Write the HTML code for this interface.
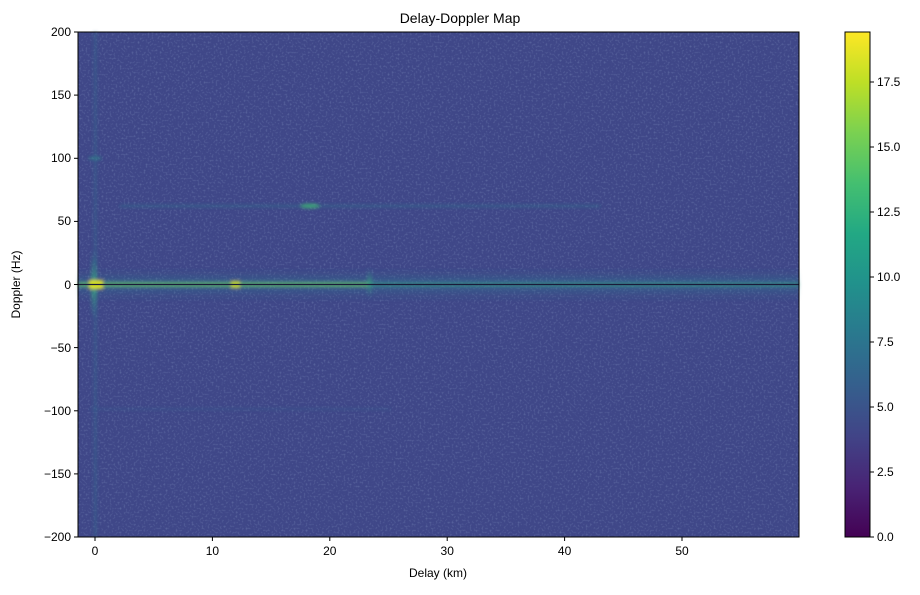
<!DOCTYPE html>
<html><head><meta charset="utf-8"><style>
body{margin:0;background:#fff;}
svg text{font-family:"Liberation Sans","DejaVu Sans",sans-serif;fill:#000;}
</style></head><body>
<svg width="920" height="590" viewBox="0 0 920 590" xmlns="http://www.w3.org/2000/svg">
<defs>
<linearGradient id="cb" x1="0" y1="1" x2="0" y2="0">
<stop offset="0" stop-color="#440154"/><stop offset="0.1" stop-color="#482475"/>
<stop offset="0.2" stop-color="#414487"/><stop offset="0.3" stop-color="#355f8d"/>
<stop offset="0.4" stop-color="#2a788e"/><stop offset="0.5" stop-color="#21918c"/>
<stop offset="0.6" stop-color="#22a884"/><stop offset="0.7" stop-color="#44bf70"/>
<stop offset="0.8" stop-color="#7ad151"/><stop offset="0.9" stop-color="#bddf26"/>
<stop offset="1" stop-color="#fde725"/></linearGradient>
<linearGradient id="band" x1="0" y1="0" x2="0" y2="1">
<stop offset="0" stop-color="#2f6a8e" stop-opacity="0"/>
<stop offset="0.4" stop-color="#2a808e" stop-opacity="0.6"/>
<stop offset="0.5" stop-color="#3fb87a" stop-opacity="0.9"/>
<stop offset="0.6" stop-color="#2a808e" stop-opacity="0.6"/>
<stop offset="1" stop-color="#2f6a8e" stop-opacity="0"/></linearGradient>
<linearGradient id="vl" x1="0" y1="0" x2="0" y2="1">
<stop offset="0" stop-color="#2a808e" stop-opacity="0"/>
<stop offset="0.5" stop-color="#3fb87a" stop-opacity="0.9"/>
<stop offset="1" stop-color="#2a808e" stop-opacity="0"/></linearGradient>
<filter id="noise" x="0" y="0" width="100%" height="100%">
<feTurbulence type="fractalNoise" baseFrequency="0.5" numOctaves="1" seed="3"/>
<feColorMatrix type="matrix" values="0 0 0 0 0.25  0 0 0 0 0.33  0 0 0 0 0.56  0 0 0 -1.6 0.8"/>
</filter>
<filter id="blur"><feGaussianBlur stdDeviation="1.5"/></filter>
</defs>
<text x="460" y="23" font-size="14" text-anchor="middle">Delay-Doppler Map</text>
<rect x="78" y="32" width="721" height="505" fill="#3f4788"/>
<rect x="78" y="32" width="721" height="505" filter="url(#noise)" opacity="0.6"/>
<g filter="url(#blur)">
<rect x="94" y="32" width="2.5" height="505" fill="#31688e" opacity="0.6"/>
<rect x="120" y="205" width="480" height="2" fill="#2a808e" opacity="0.45"/>
<ellipse cx="310" cy="206" rx="10" ry="2.5" fill="#3fbc73" opacity="0.7"/>
<rect x="90" y="408" width="300" height="2" fill="#31688e" opacity="0.35"/>
<rect x="89" y="157" width="12" height="2.5" fill="#2a9a8a" opacity="0.6"/>
<rect x="78" y="268" width="721" height="33" fill="url(#band)" opacity="0.5"/>
<rect x="78" y="280" width="721" height="9" fill="url(#band)" opacity="0.8"/>
<rect x="78" y="282" width="290" height="5" fill="#7ad151" opacity="0.45"/>
<rect x="91" y="250" width="6" height="70" fill="url(#vl)" opacity="0.8"/>
<rect x="367" y="268" width="5" height="30" fill="url(#vl)" opacity="0.6"/>
<rect x="89" y="280" width="14" height="9" fill="#e3e41c" opacity="0.9"/>
<rect x="231" y="281" width="9" height="7" fill="#d8e21d" opacity="0.8"/>
</g>
<line x1="78" y1="284.5" x2="799" y2="284.5" stroke="#1a1a3a" stroke-width="1.2"/>
<rect x="78" y="32" width="721" height="505" fill="none" stroke="#000" stroke-width="1"/>
<g stroke="#000">
<line x1="95" y1="537" x2="95" y2="541"/><line x1="212.4" y1="537" x2="212.4" y2="541"/>
<line x1="329.8" y1="537" x2="329.8" y2="541"/><line x1="447.2" y1="537" x2="447.2" y2="541"/>
<line x1="564.6" y1="537" x2="564.6" y2="541"/><line x1="682" y1="537" x2="682" y2="541"/>
</g>
<g font-size="12" text-anchor="middle">
<text x="95" y="555">0</text><text x="212.4" y="555">10</text><text x="329.8" y="555">20</text>
<text x="447.2" y="555">30</text><text x="564.6" y="555">40</text><text x="682" y="555">50</text>
<text x="438" y="577">Delay (km)</text>
</g>
<g stroke="#000">
<line x1="74" y1="32" x2="78" y2="32"/><line x1="74" y1="95.1" x2="78" y2="95.1"/>
<line x1="74" y1="158.3" x2="78" y2="158.3"/><line x1="74" y1="221.4" x2="78" y2="221.4"/>
<line x1="74" y1="284.5" x2="78" y2="284.5"/><line x1="74" y1="347.6" x2="78" y2="347.6"/>
<line x1="74" y1="410.8" x2="78" y2="410.8"/><line x1="74" y1="473.9" x2="78" y2="473.9"/>
<line x1="74" y1="537" x2="78" y2="537"/>
</g>
<g font-size="12" text-anchor="end">
<text x="71" y="36">200</text><text x="71" y="99">150</text><text x="71" y="162">100</text>
<text x="71" y="225">50</text><text x="71" y="289">0</text><text x="71" y="352">−50</text>
<text x="71" y="415">−100</text><text x="71" y="478">−150</text><text x="71" y="541">−200</text>
</g>
<text font-size="12" text-anchor="middle" transform="translate(20,284.5) rotate(-90)">Doppler (Hz)</text>
<rect x="845" y="32" width="25" height="505" fill="url(#cb)" stroke="#000" stroke-width="1"/>
<g stroke="#000">
<line x1="870" y1="537" x2="874" y2="537"/><line x1="870" y1="472" x2="874" y2="472"/>
<line x1="870" y1="407" x2="874" y2="407"/><line x1="870" y1="342" x2="874" y2="342"/>
<line x1="870" y1="277" x2="874" y2="277"/><line x1="870" y1="212" x2="874" y2="212"/>
<line x1="870" y1="147" x2="874" y2="147"/><line x1="870" y1="82" x2="874" y2="82"/>
</g>
<g font-size="12">
<text x="877" y="541">0.0</text><text x="877" y="476">2.5</text><text x="877" y="411">5.0</text>
<text x="877" y="346">7.5</text><text x="877" y="281">10.0</text><text x="877" y="216">12.5</text>
<text x="877" y="151">15.0</text><text x="877" y="86">17.5</text>
</g>
</svg>
</body></html>
